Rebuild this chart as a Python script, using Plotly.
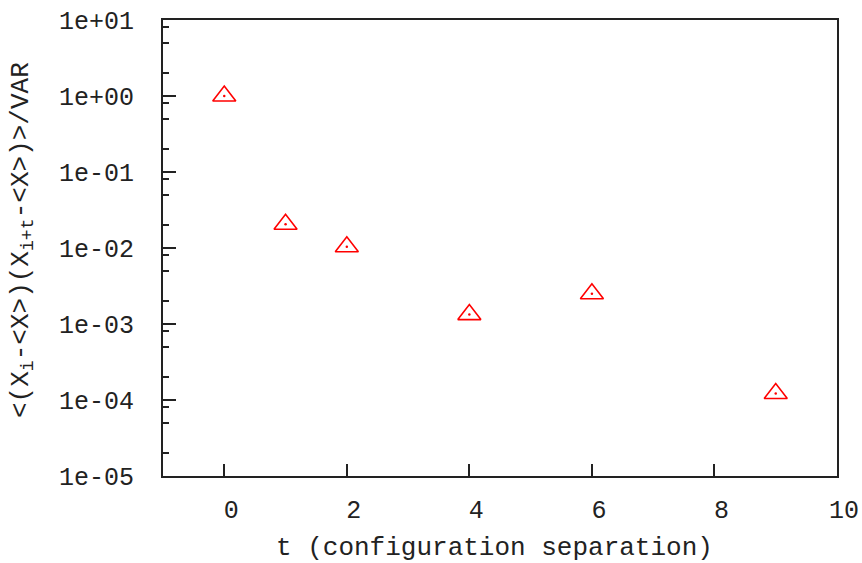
import plotly.graph_objects as go

# Autocorrelation of the sampled observable vs. configuration separation
t_sep = [0, 1, 2, 4, 6, 9]
autocorr = [1.0, 0.0205, 0.0104, 0.00133, 0.0025, 0.000122]

x_ticks = [0, 2, 4, 6, 8, 10]
y_ticks = [1e1, 1e0, 1e-1, 1e-2, 1e-3, 1e-4, 1e-5]
y_tick_text = ["1e+01", "1e+00", "1e-01", "1e-02", "1e-03", "1e-04", "1e-05"]
y_minor = [m * 10.0 ** e for e in range(-5, 1) for m in (2, 5, 8)]

x_title = "t (configuration separation)"
y_title = "&lt;(X<sub>i</sub>-&lt;X&gt;)(X<sub>i+t</sub>-&lt;X&gt;)&gt;/VAR"

FONT = "Liberation Mono, Courier New, monospace"
RED = "#ff0000"
AXIS = "#222222"

# plot-area geometry in pixels
W, H = 862, 563
ML, MR, MT, MB = 163, 25, 20, 87
PW, PH = W - ML - MR, H - MT - MB

fig = go.Figure()
fig.add_trace(go.Scatter(
    x=t_sep, y=autocorr, mode="markers",
    marker=dict(symbol="triangle-up-open", size=20, color=RED,
                line=dict(color=RED, width=1.6)),
    showlegend=False, hoverinfo="x+y",
))
fig.add_trace(go.Scatter(
    x=t_sep, y=autocorr, mode="markers",
    marker=dict(symbol="circle", size=2.5, color=RED, line=dict(width=0)),
    showlegend=False, hoverinfo="skip",
))

fig.update_layout(
    width=W, height=H,
    margin=dict(l=ML, r=MR, t=MT, b=MB),
    paper_bgcolor="white", plot_bgcolor="white",
    font=dict(family=FONT, size=25, color=AXIS),
    xaxis=dict(
        range=[-1, 10], tickvals=x_ticks, ticktext=[str(v) for v in x_ticks],
        ticks="inside", ticklen=12, tickwidth=1.5, tickcolor=AXIS,
        showline=True, linewidth=2, linecolor=AXIS, mirror=True,
        showgrid=False, zeroline=False, automargin=False,
        ticklabelstandoff=10, ticklabelshift=7,
    ),
    yaxis=dict(
        type="log", range=[-5, 1],
        tickvals=y_ticks, ticktext=y_tick_text,
        ticks="inside", ticklen=13, tickwidth=1.5, tickcolor=AXIS,
        minor=dict(tickvals=y_minor, ticks="inside", ticklen=6,
                   tickwidth=1.5, tickcolor=AXIS, showgrid=False),
        showline=True, linewidth=2, linecolor=AXIS, mirror=True,
        showgrid=False, zeroline=False, automargin=False,
        ticklabelstandoff=22,
    ),
    annotations=[
        dict(text=x_title, xref="paper", yref="paper",
             x=(494 - ML) / PW, y=(MT + PH - 548) / PH,
             xanchor="center", yanchor="middle", showarrow=False,
             font=dict(family=FONT, size=26, color=AXIS)),
        dict(text=y_title, xref="paper", yref="paper",
             x=(22 - ML) / PW, y=(MT + PH - 240) / PH,
             xanchor="center", yanchor="middle", showarrow=False,
             textangle=-90,
             font=dict(family=FONT, size=26, color=AXIS)),
    ],
)

fig.write_html("out.html")
